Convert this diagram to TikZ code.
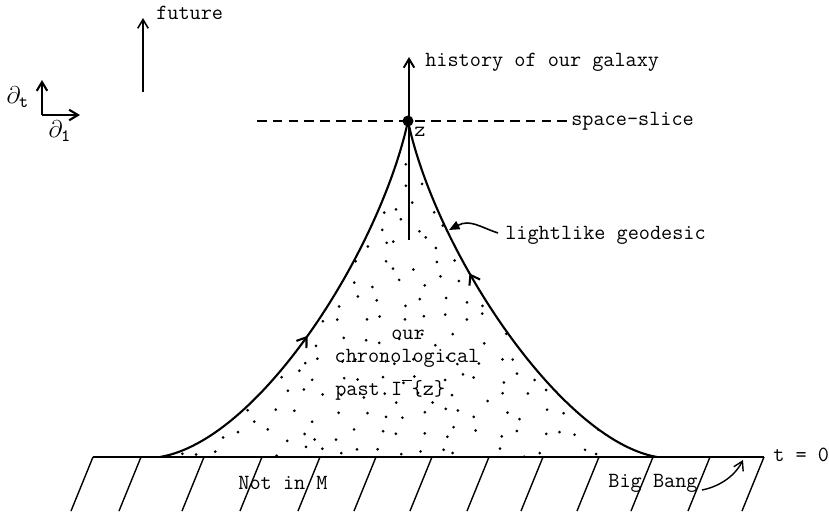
\documentclass[tikz,border=0pt]{standalone}
\usepackage{fontspec}
\usetikzlibrary{arrows.meta, decorations.markings}
\tikzset{
  lbl/.style={font=\ttfamily\fontsize{12.3}{14}\selectfont, inner sep=0pt},
  edge/.style={line width=1.2pt},
  hatch/.style={line width=0.8pt},
  midarrow/.style={postaction={decorate}, decoration={markings,
      mark=at position #1 with {\arrow{Straight Barb[length=5pt,width=7pt]}}}},
}

\begin{document}
\begin{tikzpicture}[x=0.02cm, y=-0.02cm, line join=round,
    >={Straight Barb[length=5pt,width=6pt]}]
    \useasboundingbox (0,0) rectangle (829,511);

    % frame arrows
    \coordinate (corner) at (42,115);
    \coordinate (dttip) at (42,80);
    \coordinate (dltip) at (80,115);
    \draw[->, line width=1.2pt] (corner) -- (dttip);
    \draw[->, line width=1.2pt] (corner) -- (dltip);
    \node[lbl, scale=1.15] (dt) at (18,97) {$\partial_{\mathtt{t}}$};
    \node[lbl, scale=1.15] (dl) at (60,131) {$\partial_{\mathtt{1}}$};

    \coordinate (futuretail) at (143,92);
    \coordinate (futuretip) at (143,18);
    \draw[->, line width=0.9pt] (futuretail) -- (futuretip);
    \node[lbl, anchor=west] (future) at (156,13) {future};

    % stippled past
    \begin{scope}
        \clip (160,457) .. controls (260,440) and (380,250) .. (408,121)
            .. controls (435,250) and (560,440) .. (657,457) -- cycle;
        \pgfmathsetseed{17}
        \foreach \i in {0,...,25} {
            \foreach \j in {0,...,17} {
                \pgfmathsetmacro\dx{160+20*\i+8*rand}
                \pgfmathsetmacro\dy{130+19*\j+7*rand}
                \fill (\dx,\dy) circle (0.85pt);
            }
        }
    \end{scope}

    % ground
    \coordinate (groundL) at (93,457);
    \coordinate (groundR) at (764,457);
    \foreach \x in {93,141,204,262,320,376,432,489,543,599,653,710,764} {
        \draw[hatch] (\x,457) -- ++(-22,54);
    }
    \draw[edge] (groundL) -- (groundR);
    \node[lbl, anchor=west] (tzero) at (773,455) {t = 0};
    \node[lbl] (notinM) at (283,483) {Not in M};
    \node[lbl] (bigbang) at (653,483) {Big Bang};
    \coordinate (bangtail) at (702,490);
    \coordinate (bangtip) at (743,460);
    \draw[->, line width=0.8pt] (bangtail) .. controls (722,486) and (736,474) .. (bangtip);

    % lightlike edges
    \coordinate (apex) at (408,121);
    \coordinate (leftfoot) at (160,457);
    \coordinate (rightfoot) at (657,457);
    \draw[edge, midarrow=0.45] (leftfoot) .. controls (260,440) and (380,250) .. (apex);
    \draw[edge, midarrow=0.62] (rightfoot) .. controls (560,440) and (435,250) .. (apex);

    % space-slice and galaxy
    \coordinate (sliceL) at (257,121);
    \coordinate (sliceR) at (568,121);
    \draw[line width=1.2pt, dash pattern=on 5.5pt off 3.5pt] (sliceL) -- (sliceR);
    \node[lbl, anchor=west] (slice) at (571,121) {space-slice};

    \coordinate (galaxytail) at (409,240);
    \coordinate (galaxytip) at (409,57);
    \draw[->, line width=1.1pt] (galaxytail) -- (galaxytip);
    \node[lbl, anchor=west] (history) at (425,62) {history of our galaxy};

    \fill (apex) circle (5.5);
    \node[lbl] (z) at (420,132) {z};

    \node[lbl, anchor=west] (lightlike) at (505,235) {lightlike geodesic};
    \coordinate (geotail) at (498,233);
    \coordinate (geotip) at (449,230);
    \draw[-{Triangle[length=6pt,width=5pt]}, line width=0.9pt]
        (geotail) .. controls (480,227) and (470,219) .. (geotip);

    \node[lbl] (our) at (408,335) {our};
    \node[lbl] (chrono) at (407,358) {chronological};
    \node[lbl, anchor=west] (past) at (335,390)
        {past I\raisebox{1.6ex}{\rule{0.45em}{0.7pt}}\{z\}};
\end{tikzpicture}
\end{document}
